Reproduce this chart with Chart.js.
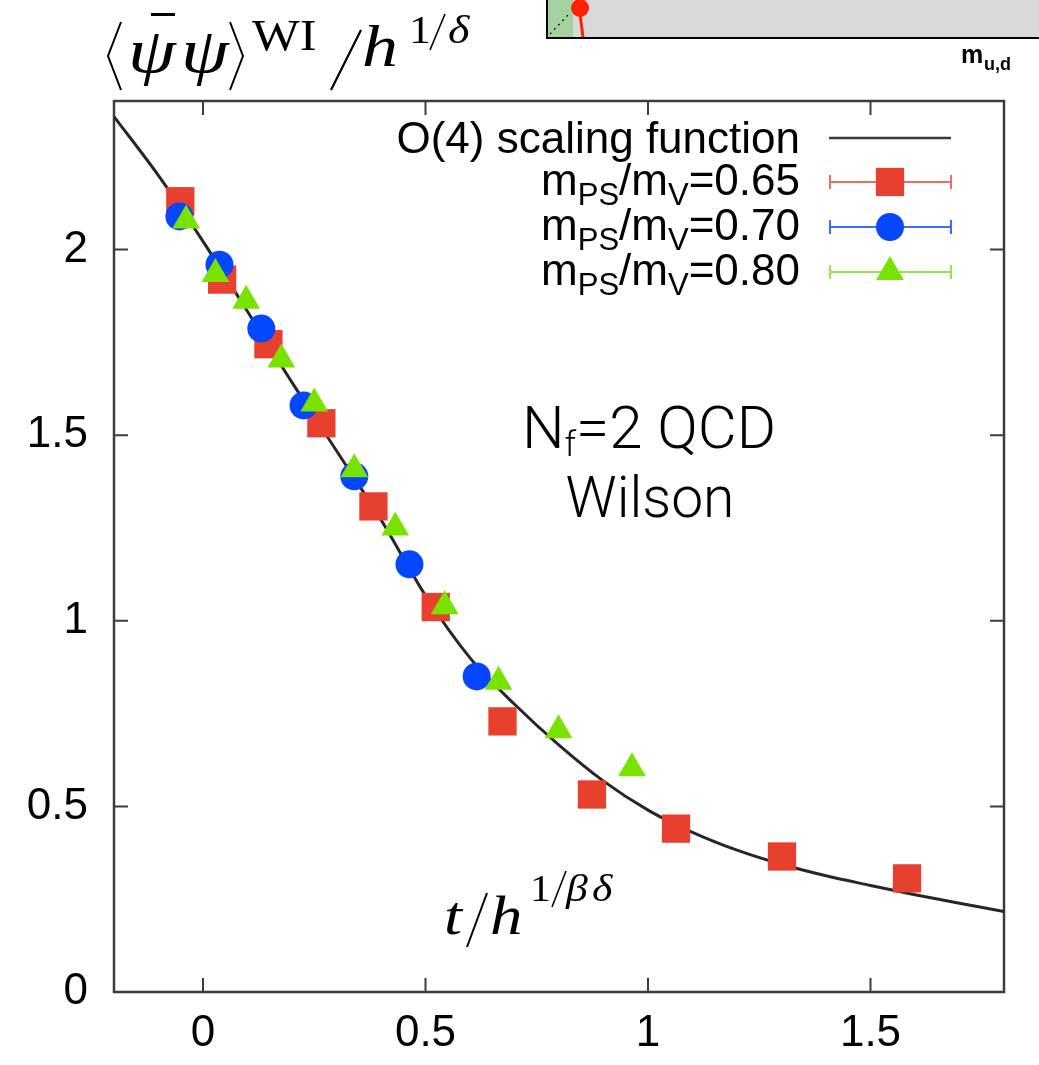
<!DOCTYPE html>
<html>
<head>
<meta charset="utf-8">
<script src="https://cdn.jsdelivr.net/npm/chart.js@4.4.1/dist/chart.umd.min.js"></script>
<style>
  html, body { margin: 0; padding: 0; background: #fff; }
  #wrap { width: 1039px; height: 1065px; }
</style>
</head>
<body>
<div id="wrap"><canvas id="scalingChart" width="1039" height="1065"></canvas></div>
<script>
// O(4) scaling function sampled along t/h^(1/beta delta)
const curveX = [-0.2, -0.1, 0, 0.1, 0.2, 0.3, 0.4, 0.5, 0.6, 0.7, 0.8, 0.9, 1.0, 1.1, 1.2, 1.3, 1.4, 1.5, 1.6, 1.7, 1.8];
const curveY = [2.358, 2.199, 2.022, 1.833, 1.642, 1.458, 1.272, 1.068, 0.900, 0.775, 0.665, 0.568, 0.490, 0.430, 0.382, 0.344, 0.313, 0.287, 0.262, 0.239, 0.217];

// lattice data, mPS/mV = 0.65
const x065 = [-0.051, 0.043, 0.147, 0.266, 0.383, 0.523, 0.673, 0.874, 1.063, 1.301, 1.582];
const y065 = [2.130, 1.919, 1.745, 1.532, 1.308, 1.037, 0.729, 0.532, 0.440, 0.365, 0.306];
// mPS/mV = 0.70
const x070 = [-0.053, 0.037, 0.131, 0.226, 0.340, 0.464, 0.615];
const y070 = [2.089, 1.959, 1.787, 1.580, 1.389, 1.152, 0.850];
// mPS/mV = 0.80
const x080 = [-0.038, 0.028, 0.097, 0.176, 0.250, 0.340, 0.432, 0.543, 0.664, 0.799, 0.964];
const y080 = [2.078, 1.934, 1.862, 1.704, 1.585, 1.408, 1.251, 1.039, 0.836, 0.705, 0.603];

const xTicks = [0, 0.5, 1, 1.5];
const yTicks = [0, 0.5, 1, 1.5, 2];

const ratios = ['0.65', '0.70', '0.80'];
const colors = ['#e8402f', '#0546ff', '#78e300'];
const barColors = ['#ef6c66', '#3d6cff', '#8fe84a'];
const shapes = ['rect', 'circle', 'triangle'];
const radii = { rect: 20, circle: 14, triangle: 16 };

const sans = '"Liberation Sans", Arial, sans-serif';
const serif = '"Liberation Serif", "Times New Roman", serif';
const light = 'Roboto, Lato, "Open Sans", sans-serif';

function pts(xs, ys) {
    return xs.map((x, i) => ({ x: x, y: ys[i] }));
}

const seriesX = [x065, x070, x080];
const seriesY = [y065, y070, y080];

const datasets = [{
    label: 'O(4) scaling function',
    data: pts(curveX, curveY),
    showLine: true,
    borderColor: '#262626',
    borderWidth: 3,
    pointRadius: 0,
    cubicInterpolationMode: 'monotone',
    order: 4
}];
ratios.forEach((r, i) => {
    datasets.push({
        label: 'mPS/mV=' + r,
        data: pts(seriesX[i], seriesY[i]),
        showLine: false,
        pointStyle: shapes[i],
        pointRadius: radii[shapes[i]],
        pointHoverRadius: radii[shapes[i]],
        backgroundColor: colors[i],
        borderWidth: 0,
        order: 3 - i
    });
});

function marker(c, shape, x, y, color) {
    c.fillStyle = color;
    c.beginPath();
    if (shape === 'rect') {
        const s = radii.rect * Math.SQRT1_2;
        c.rect(x - s, y - s, 2 * s, 2 * s);
    } else if (shape === 'circle') {
        c.arc(x, y, radii.circle, 0, Math.PI * 2);
    } else {
        const r = radii.triangle;
        c.moveTo(x, y - r);
        c.lineTo(x + r * Math.sin(Math.PI * 2 / 3), y + r / 2);
        c.lineTo(x - r * Math.sin(Math.PI * 2 / 3), y + r / 2);
        c.closePath();
    }
    c.fill();
}

// writes pieces [text, font, dy] one after another, right-aligned on xr
function rightRuns(c, runs, xr, y) {
    let w = 0;
    runs.forEach(r => { c.font = r[1]; w += c.measureText(r[0]).width; });
    let x = xr - w;
    runs.forEach(r => {
        c.font = r[1];
        c.fillText(r[0], x, y + r[2]);
        x += c.measureText(r[0]).width;
    });
}

function centerRuns(c, runs, xc, y) {
    let w = 0;
    runs.forEach(r => { c.font = r[1]; w += c.measureText(r[0]).width; });
    rightRuns(c, runs, xc + w / 2, y);
}

// math lettering is a bit wider than Times, so glyphs get widened slightly
function wide(c, text, font, x, y, sx) {
    c.font = font;
    c.save();
    c.translate(x, y);
    c.scale(sx || 1.2, 1);
    c.fillText(text, 0, 0);
    c.restore();
}

const decorations = {
    id: 'decorations',
    beforeDatasetsDraw(chart) {
        const c = chart.ctx;
        const a = chart.chartArea;
        const xs = chart.scales.x, ys = chart.scales.y;
        c.save();
        c.strokeStyle = '#3c3c3c';
        c.lineWidth = 2.5;
        c.strokeRect(a.left, a.top, a.right - a.left, a.bottom - a.top);
        c.lineWidth = 2;
        c.beginPath();
        xTicks.forEach(v => {
            const px = xs.getPixelForValue(v);
            c.moveTo(px, a.bottom); c.lineTo(px, a.bottom - 14);
            c.moveTo(px, a.top); c.lineTo(px, a.top + 14);
        });
        yTicks.forEach(v => {
            const py = ys.getPixelForValue(v);
            c.moveTo(a.left, py); c.lineTo(a.left + 14, py);
            c.moveTo(a.right, py); c.lineTo(a.right - 14, py);
        });
        c.stroke();
        c.restore();
    },
    afterDraw(chart) {
        const c = chart.ctx;
        c.save();
        c.textBaseline = 'alphabetic';

        // legend
        const rowY = [138, 182, 227, 272];
        c.fillStyle = '#000';
        rightRuns(c, [['O(4) scaling function', '44px ' + sans, 0]], 800, rowY[0] + 15);
        c.strokeStyle = '#3a3a3a';
        c.lineWidth = 2.5;
        c.beginPath(); c.moveTo(829, rowY[0]); c.lineTo(951, rowY[0]); c.stroke();
        ratios.forEach((r, i) => {
            const y = rowY[i + 1];
            c.fillStyle = '#000';
            rightRuns(c, [
                ['m', '44px ' + sans, 0],
                ['PS', '31px ' + sans, 10],
                ['/m', '44px ' + sans, 0],
                ['V', '31px ' + sans, 10],
                ['=' + r, '44px ' + sans, 0]
            ], 800, y + 13);
            c.strokeStyle = barColors[i];
            c.lineWidth = 2;
            c.beginPath();
            c.moveTo(830, y); c.lineTo(951, y);
            c.moveTo(830, y - 7); c.lineTo(830, y + 7);
            c.moveTo(951, y - 7); c.lineTo(951, y + 7);
            c.stroke();
            marker(c, shapes[i], 890, y, colors[i]);
        });

        // run annotation
        c.fillStyle = '#000';
        centerRuns(c, [
            ['N', '300 60px ' + light, 0],
            ['f', '300 35px ' + light, 8],
            ['=2 QCD', '300 60px ' + light, 0]
        ], 649, 448);
        centerRuns(c, [['Wilson', '300 57px ' + light, 0]], 650, 517);

        // x axis label t/h^{1/βδ}
        wide(c, 't', 'italic 54px ' + serif, 444, 934);
        c.strokeStyle = '#000';
        c.lineWidth = 2;
        c.beginPath(); c.moveTo(487, 893); c.lineTo(467, 947); c.stroke();
        wide(c, 'h', 'italic 54px ' + serif, 490, 934);
        wide(c, '1', '38px ' + serif, 530, 901, 1.1);
        c.lineWidth = 1.6;
        c.beginPath(); c.moveTo(566, 871); c.lineTo(552, 907); c.stroke();
        wide(c, 'β', 'italic 38px ' + serif, 566, 901, 1.15);
        wide(c, 'δ', 'italic 38px ' + serif, 592, 901, 1.15);

        // y axis label <psibar psi>^WI / h^{1/δ}
        c.lineWidth = 2;
        c.beginPath(); c.moveTo(121, 22); c.lineTo(108, 56); c.lineTo(121, 90); c.stroke();
        c.beginPath(); c.moveTo(230, 22); c.lineTo(243, 56); c.lineTo(230, 90); c.stroke();
        wide(c, 'ψ', 'italic 64px ' + serif, 128, 72);
        wide(c, 'ψ', 'italic 64px ' + serif, 181, 72);
        c.fillRect(151, 13, 24, 3);
        wide(c, 'WI', '44px ' + serif, 252, 50, 1.15);
        c.lineWidth = 2.2;
        c.beginPath(); c.moveTo(361, 30); c.lineTo(331, 90); c.stroke();
        wide(c, 'h', 'italic 60px ' + serif, 362, 66);
        wide(c, '1', '40px ' + serif, 409, 43, 1.1);
        c.lineWidth = 1.6;
        c.beginPath(); c.moveTo(445, 14); c.lineTo(430, 50); c.stroke();
        wide(c, 'δ', 'italic 40px ' + serif, 448, 43, 1.15);

        // corner of the neighbouring phase diagram
        c.fillStyle = '#d9d9d9';
        c.fillRect(548, 0, 491, 37);
        c.fillStyle = '#a3d2a0';
        c.fillRect(548, 0, 25, 37);
        c.strokeStyle = '#000';
        c.lineWidth = 2;
        c.beginPath(); c.moveTo(547, 0); c.lineTo(547, 38); c.lineTo(1039, 38); c.stroke();
        c.lineWidth = 1.2;
        c.setLineDash([2, 4]);
        c.beginPath(); c.moveTo(550, 34); c.lineTo(569, 14); c.stroke();
        c.setLineDash([]);
        c.strokeStyle = '#ff2200';
        c.lineWidth = 3;
        c.beginPath(); c.moveTo(580, 14); c.lineTo(583, 37); c.stroke();
        c.fillStyle = '#ff2200';
        c.beginPath(); c.arc(580, 8, 9, 0, Math.PI * 2); c.fill();
        c.fillStyle = '#000';
        c.font = 'bold 25px ' + sans;
        c.fillText('m', 961, 63);
        c.font = 'bold 18px ' + sans;
        c.fillText('u,d', 984, 70);
        c.restore();
    }
};

const chart = new Chart(document.getElementById('scalingChart').getContext('2d'), {
    type: 'scatter',
    data: { datasets: datasets },
    options: {
        responsive: false,
        animation: false,
        layout: { padding: { top: 101, right: 35, left: 0, bottom: 0 } },
        plugins: { legend: { display: false }, tooltip: { enabled: false } },
        scales: {
            x: {
                type: 'linear', min: -0.2, max: 1.8,
                afterBuildTicks: s => { s.ticks = xTicks.map(v => ({ value: v })); },
                afterFit: s => { s.height = 73; },
                grid: { display: false, drawTicks: false },
                border: { display: false },
                ticks: { color: '#000', padding: 15, font: { family: sans, size: 44 }, callback: v => String(v) }
            },
            y: {
                type: 'linear', min: 0, max: 2.4,
                afterBuildTicks: s => { s.ticks = yTicks.map(v => ({ value: v })); },
                afterFit: s => { s.width = 114; },
                grid: { display: false, drawTicks: false },
                border: { display: false },
                ticks: { color: '#000', padding: 26, font: { family: sans, size: 44 }, callback: v => String(v) }
            }
        }
    },
    plugins: [decorations]
});
</script>
</body>
</html>
